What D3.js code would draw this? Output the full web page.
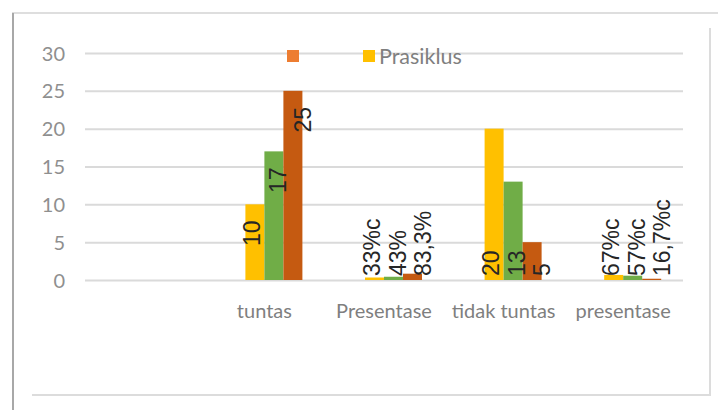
<!DOCTYPE html>
<html>
<head>
<meta charset="utf-8">
<script src="https://cdnjs.cloudflare.com/ajax/libs/d3/7.8.5/d3.min.js"></script>
<style>
  html, body { margin: 0; padding: 0; background: #fff; }
  svg { display: block; }
</style>
</head>
<body>
<svg id="chart" width="718" height="410"></svg>
<script>
// ---- data ----
const categories = ["", "tuntas", "Presentase", "tidak tuntas", "presentase"];
const seriesNames = ["", "Prasiklus", "Siklus I", "Siklus II"];
const legendNames = ["", "Prasiklus"];
const seriesBlank  = [0, 0, 0, 0, 0];
const prasiklus    = [null, 10, 0.33, 20, 0.67];
const siklus1      = [null, 17, 0.43, 13, 0.57];
const siklus2      = [null, 25, 0.833, 5, 0.167];
const labelsPrasiklus = ["", "10", "33%c", "20", "67%c"];
const labelsSiklus1   = ["", "17", "43%", "13", "57%c"];
const labelsSiklus2   = ["", "25", "83,3%", "5", "16,7%c"];
const yTicks = [0, 5, 10, 15, 20, 25, 30];
const insideEndCategories = ["tuntas"];

const colors = ["#ED7D31", "#FFC000", "#70AD47", "#C55A11"];
const seriesValues = [seriesBlank, prasiklus, siklus1, siklus2];
const seriesLabels = [["", "", "", "", ""], labelsPrasiklus, labelsSiklus1, labelsSiklus2];

const svg = d3.select("#chart");

// frame (photographed chart border)
const frame = svg.append("g");
frame.append("line").attr("x1", 12).attr("x2", 718).attr("y1", 13).attr("y2", 13)
  .attr("stroke", "#dedede").attr("stroke-width", 2);
frame.append("line").attr("x1", 13).attr("x2", 13).attr("y1", 13).attr("y2", 410)
  .attr("stroke", "#a8a8a8").attr("stroke-width", 2);
frame.append("line").attr("x1", 710).attr("x2", 710).attr("y1", 28).attr("y2", 396)
  .attr("stroke", "#dcdcdc").attr("stroke-width", 2);
frame.append("line").attr("x1", 32).attr("x2", 710).attr("y1", 395).attr("y2", 395)
  .attr("stroke", "#dcdcdc").attr("stroke-width", 2);

// scales
const plotLeft = 85, plotRight = 683, plotTop = 53, plotBottom = 280;
const y = d3.scaleLinear().domain([0, 30]).range([plotBottom, plotTop]);
const groupFrac = 76 / ((plotRight - plotLeft) / categories.length);
const x0 = d3.scaleBand().domain(categories.map((c, i) => i)).range([plotLeft, plotRight])
  .paddingInner(1 - groupFrac).paddingOuter((1 - groupFrac) / 2);
const x1 = d3.scaleBand().domain(seriesNames.map((s, i) => i)).range([0, x0.bandwidth()]);

// gridlines + y axis
const yAxis = d3.axisLeft(y).tickValues(yTicks).tickSize(-(plotRight - plotLeft)).tickPadding(20);
const gy = svg.append("g").attr("transform", `translate(${plotLeft},0)`).call(yAxis);
gy.select(".domain").remove();
gy.selectAll(".tick line").attr("stroke", "#dadada").attr("stroke-width", 2);
gy.selectAll(".tick text").attr("fill", "#8f8f8f").attr("font-family", "Lato, sans-serif")
  .attr("font-size", 20).attr("dy", "0.35em");

// x axis labels
const xAxis = d3.axisBottom(x0).tickFormat(i => categories[i]).tickSize(0).tickPadding(24);
const gx = svg.append("g").attr("transform", `translate(0,${plotBottom})`).call(xAxis);
gx.select(".domain").remove();
gx.selectAll(".tick text").attr("fill", "#7f7f7f").attr("font-family", "Lato, sans-serif")
  .attr("font-size", 20);

// bars
const bars = [];
seriesValues.forEach((vals, s) => {
  vals.forEach((v, c) => {
    if (v === null || v === 0) return;
    bars.push({ s, c, v, label: seriesLabels[s][c] });
  });
});
svg.append("g").selectAll("rect").data(bars).join("rect")
  .attr("x", d => x0(d.c) + x1(d.s))
  .attr("width", x1.bandwidth())
  .attr("y", d => y(d.v))
  .attr("height", d => y(0) - y(d.v))
  .attr("fill", d => colors[d.s]);

// data labels (rotated)
const nudge = [0, -3, 4, 10];
svg.append("g").selectAll("text").data(bars).join("text")
  .attr("transform", d => {
    const cx = x0(d.c) + x1(d.s) + x1.bandwidth() / 2 + nudge[d.s];
    const insideEnd = insideEndCategories.includes(categories[d.c]);
    const ty = insideEnd ? y(d.v) + 16 : y(0) - 4;
    return `translate(${cx},${ty}) rotate(-90)`;
  })
  .attr("text-anchor", d => insideEndCategories.includes(categories[d.c]) ? "end" : "start")
  .attr("dy", "0.36em")
  .attr("font-family", "'Liberation Sans', Arial, sans-serif")
  .attr("font-size", 23)
  .attr("fill", "#262626")
  .text(d => d.label);

// legend
const legend = svg.append("g");
const legendX = [287, 363];
legendNames.forEach((name, i) => {
  legend.append("rect").attr("x", legendX[i]).attr("y", 50).attr("width", 12).attr("height", 12)
    .attr("fill", colors[i]);
  if (name) {
    legend.append("text").attr("x", legendX[i] + 16).attr("y", 56).attr("dy", "0.35em")
      .attr("font-family", "Lato, sans-serif").attr("font-size", 21.5).attr("fill", "#7f7f7f")
      .text(name);
  }
});
</script>
</body>
</html>
